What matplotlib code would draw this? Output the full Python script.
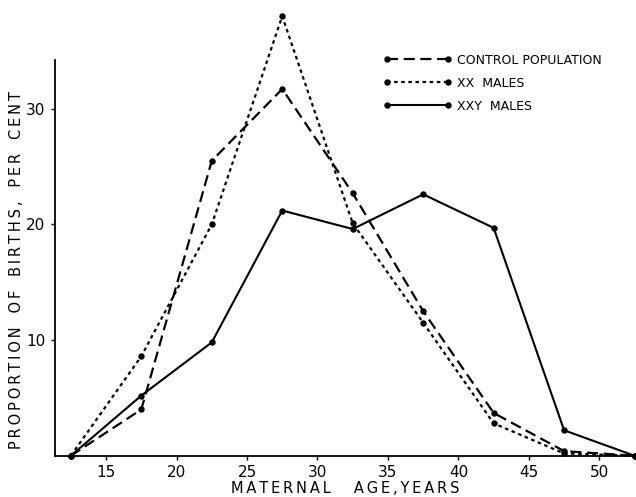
import numpy as np
import matplotlib.pyplot as plt

# maternal age group midpoints, years
age = [12.5, 17.5, 22.5, 27.5, 32.5, 37.5, 42.5, 47.5, 52.5]

# proportion of births, per cent
control = [0, 4.0, 25.5, 31.7, 22.7, 12.5, 3.7, 0.4, 0]
xx_males = [0, 8.6, 20.0, 38.0, 20.1, 11.5, 2.8, 0.2, 0]
xxy_males = [0, 5.2, 9.8, 21.2, 19.6, 22.6, 19.7, 2.2, 0]

x_ticks = [15, 20, 25, 30, 35, 40, 45, 50]
y_ticks = [10, 20, 30]


def spaced(text):
    # the old typeset labels have wide letter spacing
    return '\u2009'.join(text)


plt.rcParams['font.family'] = 'DejaVu Sans'

fig = plt.figure(figsize=(6.36, 4.97), dpi=100)
ax = fig.add_axes([0.087, 0.083, 0.913, 0.796])

common = dict(color='black', marker='o', markersize=3.6, clip_on=False)
ax.plot(age, control, linestyle=(0, (5, 2.5)), linewidth=1.6,
        label='CONTROL POPULATION', **common)
ax.plot(age, xx_males, linestyle=(0, (1.6, 1.6)), linewidth=1.6,
        label='XX  MALES', **common)
ax.plot(age, xxy_males, linestyle='-', linewidth=1.5,
        label='XXY  MALES', **common)

ax.set_xlim(11.4, 52.6)
ax.set_ylim(0, 34.2)
ax.set_xticks(x_ticks)
ax.set_yticks(y_ticks)
ax.tick_params(labelsize=11, length=3, width=1, pad=4)

for side in ['top', 'right']:
    ax.spines[side].set_visible(False)
for side in ['left', 'bottom']:
    ax.spines[side].set_linewidth(1.3)

ax.set_xlabel(spaced('MATERNAL') + '     ' + spaced('AGE,YEARS'), fontsize=10.5)
ax.xaxis.set_label_coords(0.5, -0.064)
ax.set_ylabel(spaced('PROPORTION') + '   ' + spaced('OF') + '   ' + spaced('BIRTHS,')
              + '   ' + spaced('PER') + '   ' + spaced('CENT'), fontsize=10.5)
ax.yaxis.set_label_coords(-0.054, 0.47)

leg = ax.legend(loc='upper left', bbox_to_anchor=(0.545, 1.045), frameon=False,
                numpoints=2, handlelength=5.5, handletextpad=0.4,
                labelspacing=0.8, fontsize=9)

fig.savefig('out.png', dpi=100)
